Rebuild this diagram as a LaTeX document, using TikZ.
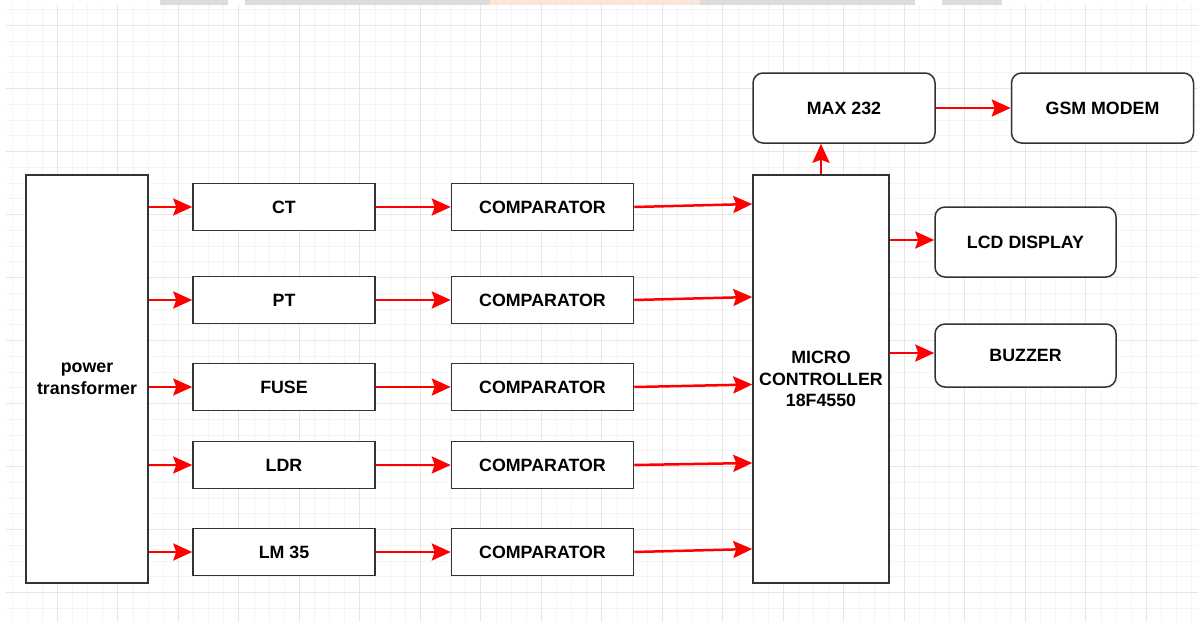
\documentclass[tikz,border=0pt]{standalone}
\usepackage{fontspec}
\setmainfont{Liberation Sans}
\definecolor{GridMajor}{HTML}{E6E6E6}
\definecolor{GridMinor}{HTML}{F4F4F4}
\definecolor{BoxLine}{HTML}{333333}
\definecolor{WireRed}{HTML}{FF0000}
\definecolor{Smudge}{HTML}{DCDCDC}
\definecolor{SmudgeOrange}{HTML}{F9E6D8}
\usetikzlibrary{arrows.meta, positioning}

\begin{document}
\begin{tikzpicture}[x=1pt, y=-1pt,
    >={Stealth[length=19pt, width=17pt, inset=3pt]},
    box/.style={draw=BoxLine, line width=1.5pt, fill=white, inner sep=0pt,
                minimum width=182pt, minimum height=47pt, align=center,
                font=\fontsize{17.8}{21.5}\selectfont\bfseries},
    tall/.style={box, minimum width=122pt, minimum height=408pt},
    rbox/.style={box, rounded corners=10pt, minimum height=70pt},
    wire/.style={->, draw=WireRed, line width=2.5pt}]
  \useasboundingbox (0,0) rectangle (1204,626);

  % smudge along the top edge
  \fill[Smudge] (160,0) rectangle (228,5);
  \fill[Smudge] (245,0) rectangle (490,5);
  \fill[SmudgeOrange] (490,0) rectangle (700,5);
  \fill[Smudge] (700,0) rectangle (915,5);
  \fill[Smudge] (942,0) rectangle (1002,5);

  % background grid
  \begin{scope}
    \clip (6,5) rectangle (1198,622);
    \foreach \i in {0,...,80}
      \draw[GridMinor, line width=1pt] ({-3.1+15.125*\i},5) -- ({-3.1+15.125*\i},622);
    \foreach \j in {0,...,42}
      \draw[GridMinor, line width=1pt] (6,{-37.5+15.75*\j}) -- (1198,{-37.5+15.75*\j});
    \foreach \i in {0,...,20}
      \draw[GridMajor, line width=1pt] ({-3.1+60.5*\i},5) -- ({-3.1+60.5*\i},622);
    \foreach \j in {0,...,10}
      \draw[GridMajor, line width=1pt] (6,{-37.5+63*\j}) -- (1198,{-37.5+63*\j});
  \end{scope}

  % blocks
  \node[tall] (ptr) at (87,379) {power\\transformer};
  \node[box] (ct)   at (284,207) {CT};
  \node[box] (pt)   at (284,300) {PT};
  \node[box] (fuse) at (284,387) {FUSE};
  \node[box] (ldr)  at (284,465) {LDR};
  \node[box] (lm)   at (284,552) {LM 35};
  \foreach \s/\c in {ct/cmpa, pt/cmpb, fuse/cmpc, ldr/cmpd, lm/cmpe}
    \node[box, right=75pt of \s] (\c) {COMPARATOR};
  \node[tall, minimum width=136pt] (mcu) at (821,379)
    {MICRO\\CONTROLLER\\18F4550};
  \node[rbox] (max) at (844,108) {MAX 232};
  \node[rbox, right=75pt of max] (gsm) {GSM MODEM};
  \node[rbox, minimum width=181pt] (lcd) at (1025.5,242) {LCD DISPLAY};
  \node[rbox, minimum width=181pt, minimum height=63pt] (buz) at (1025.5,355.5) {BUZZER};

  % signal paths
  \foreach \s in {ct, pt, fuse, ldr, lm}
    \draw[wire] (ptr.east |- \s.west) -- (\s.west);
  \foreach \s/\c in {ct/cmpa, pt/cmpb, fuse/cmpc, ldr/cmpd, lm/cmpe}
    \draw[wire] (\s.east) -- (\c.west);
  \draw[wire] (cmpa.east) -- ([yshift=3pt]cmpa.east -| mcu.west);
  \draw[wire] (cmpb.east) -- ([yshift=3pt]cmpb.east -| mcu.west);
  \draw[wire] (cmpc.east) -- ([yshift=2.5pt]cmpc.east -| mcu.west);
  \draw[wire] (cmpd.east) -- ([yshift=2pt]cmpd.east -| mcu.west);
  \draw[wire] (cmpe.east) -- ([yshift=3pt]cmpe.east -| mcu.west);
  \draw[wire] (mcu.north) -- (mcu.north |- max.south);
  \draw[wire] (max.east) -- (gsm.west);
  \draw[wire] ([yshift=2pt]mcu.east |- lcd.west) -- ([yshift=2pt]lcd.west);
  \draw[wire] ([yshift=2.5pt]mcu.east |- buz.west) -- ([yshift=2.5pt]buz.west);
\end{tikzpicture}
\end{document}
